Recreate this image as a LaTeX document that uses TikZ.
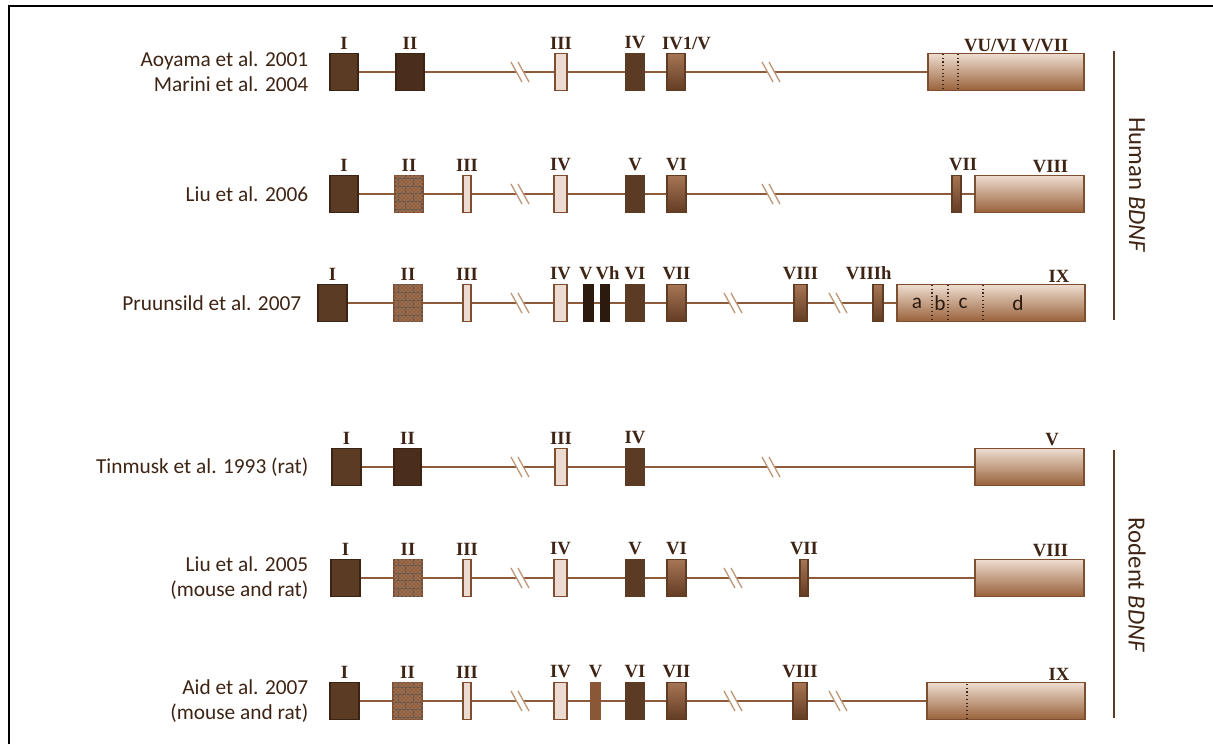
\documentclass[tikz,border=0pt]{standalone}
\usepackage{fontspec}
\setmainfont{Carlito}
\newfontfamily\exfont{Liberation Serif}
\usetikzlibrary{positioning,patterns,backgrounds}

\definecolor{brLine}{HTML}{8D5B3B}
\definecolor{brEdge}{HTML}{7E4E30}
\definecolor{brDark}{HTML}{5C3B24}
\definecolor{brDeep}{HTML}{3B2414}
\definecolor{brDeeper}{HTML}{4A2E1B}
\definecolor{brBlack}{HTML}{2C1A0E}
\definecolor{brMid}{HTML}{8A5737}
\definecolor{brPale}{HTML}{EBDBD0}
\definecolor{brTop}{HTML}{A67555}
\definecolor{brBot}{HTML}{623C22}
\definecolor{brBigTop}{HTML}{EEDDD0}
\definecolor{brBigBot}{HTML}{99613A}
\definecolor{brTex}{HTML}{8E5E3E}
\definecolor{brText}{HTML}{3E2414}
\definecolor{brCut}{HTML}{BE9878}

\tikzset{
  exonbox/.style={draw=brEdge, line width=1.2pt, minimum height=27.75pt,
    inner sep=0pt, outer sep=0pt},
  darkex/.style={exonbox, fill=brDark, draw=brDeep},
  solidex/.style={exonbox, fill=brDark, draw=brDark},
  blackex/.style={exonbox, fill=brBlack, draw=brBlack},
  midex/.style={exonbox, fill=brMid, draw=brMid},
  lightex/.style={exonbox, fill=brPale},
  shadex/.style={exonbox, top color=brTop, bottom color=brBot, draw=brBot},
  bigex/.style={exonbox, top color=brBigTop, bottom color=brBigBot},
  texex/.style={exonbox, fill=brTex, draw=brEdge,
    postaction={pattern=bricks, pattern color=brDeep!80},
    postaction={pattern=crosshatch dots, pattern color=brPale!60!brTex}},
  exlabel/.style={font=\exfont\bfseries\fontsize{14}{14}\selectfont,
    text=brText, inner sep=1pt, label distance=2pt},
  bigexlabel/.style={anchor=south east, xshift=-12.5pt},
  reflabel/.style={font=\fontsize{16}{19}\selectfont, text=brText,
    align=right, anchor=east},
  sidelabel/.style={font=\fontsize{18.5}{20}\selectfont, text=brText, rotate=-90},
  seglabel/.style={font=\fontsize{16}{16}\selectfont, text=brBlack},
  intronline/.style={draw=brLine, line width=1.8pt},
  cutmark/.style={draw=brCut, line width=1pt},
  divider/.style={draw=brDeep, line width=0.8pt, dotted},
  bracket/.style={draw=brDark, line width=1.5pt}
}

% exon: [label options] name, style, left x, right x, row y, label
\newcommand\exon[7][]{\node[#3, minimum width={(#5-#4)*0.75pt},
  label={[exlabel,#1]#7}] (#2) at ({(#4+#5)/2},#6) {};}
% break mark on an intron
\newcommand\brk[2]{%
  \draw[white, line width=4pt] (#1-5,#2-10) -- (#1+5,#2+10);
  \draw[cutmark] (#1-9,#2-10) -- (#1+2,#2+10) (#1-2,#2-10) -- (#1+9,#2+10);}

\begin{document}
\begin{tikzpicture}[x=0.75pt, y=-0.75pt]
  \useasboundingbox (0,0) rectangle (1213,744);
  \draw[line width=1.6pt] (9,744) -- (9,6) -- (1213,6);

  % human
  \node[reflabel] (aoyama) at (313,72) {Aoyama et al. 2001\\Marini et al. 2004};
  \exon{aI}{darkex}{330}{358}{72}{above:I}
  \exon{aII}{darkex, fill=brDeeper}{396}{424}{72}{above:II}
  \exon{aIII}{lightex}{555}{567}{72}{above:III}
  \exon{aIV}{solidex}{626}{644}{72}{above:IV}
  \exon[anchor=south west, xshift=-4pt]{aIVv}{shadex}{667}{685}{72}{north west:IV1/V}
  \exon[bigexlabel]{aVII}{bigex}{928}{1084}{72}{north east:VU/VI V/VII}
  \draw[divider] (943,54) -- (943,90) (958,54) -- (958,90);

  \node[reflabel] (liu06) at (313,194) {Liu et al. 2006};
  \exon{bI}{darkex}{330}{358}{194}{above:I}
  \exon{bII}{texex}{395}{423}{194}{above:II}
  \exon{bIII}{lightex}{463}{471}{194}{above:III}
  \exon{bIV}{lightex}{554}{567}{194}{above:IV}
  \exon{bV}{solidex}{626}{644}{194}{above:V}
  \exon{bVI}{shadex}{667}{686}{194}{above:VI}
  \exon[xshift=5pt]{bVII}{shadex}{952}{961}{194}{above:VII}
  \exon[bigexlabel]{bVIII}{bigex}{975}{1084}{194}{north east:VIII}

  \node[reflabel] (pruun) at (306,303) {Pruunsild et al. 2007};
  \exon{cI}{darkex}{318}{347}{303}{above:I}
  \exon{cII}{texex}{394}{422}{303}{above:II}
  \exon{cIII}{lightex}{463}{471}{303}{above:III}
  \exon{cIV}{lightex}{554}{567}{303}{above:IV}
  \exon[xshift=-2pt]{cV}{blackex}{584}{593}{303}{above:V}
  \exon[xshift=2pt]{cVh}{blackex}{601}{609}{303}{above:Vh}
  \exon{cVI}{solidex}{626}{644}{303}{above:VI}
  \exon{cVII}{shadex}{667}{686}{303}{above:VII}
  \exon{cVIII}{shadex}{794}{807}{303}{above:VIII}
  \exon[xshift=-7pt]{cVIIIh}{shadex}{873}{883}{303}{above:VIIIh}
  \exon[bigexlabel]{cIX}{bigex}{897}{1085}{303}{north east:IX}
  \draw[divider] (932,285) -- (932,321) (948,285) -- (948,321) (983,285) -- (983,321);
  \node[seglabel] (ixa) at (917,303) {a};
  \node[seglabel] (ixb) at (940,303) {b};
  \node[seglabel] (ixc) at (963,303) {c};
  \node[seglabel] (ixd) at (1018,303) {d};

  % rodent
  \node[reflabel] (tinmusk) at (313,467) {Tinmusk et al. 1993 (rat)};
  \exon{dI}{darkex}{332}{361}{467}{above:I}
  \exon{dII}{darkex, fill=brDeeper}{394}{421}{467}{above:II}
  \exon{dIII}{lightex}{555}{567}{467}{above:III}
  \exon{dIV}{solidex}{626}{644}{467}{above:IV}
  \exon[bigexlabel, xshift=-7pt]{dV}{bigex}{975}{1084}{467}{north east:V}

  \node[reflabel] (liu05) at (313,578) {Liu et al. 2005\\(mouse and rat)};
  \exon{eI}{darkex}{331}{360}{578}{above:I}
  \exon{eII}{texex}{394}{422}{578}{above:II}
  \exon{eIII}{lightex}{463}{471}{578}{above:III}
  \exon{eIV}{lightex}{554}{567}{578}{above:IV}
  \exon{eV}{solidex}{626}{644}{578}{above:V}
  \exon{eVI}{shadex}{667}{686}{578}{above:VI}
  \exon{eVII}{shadex}{800}{808}{578}{above:VII}
  \exon[bigexlabel]{eVIII}{bigex}{975}{1084}{578}{north east:VIII}

  \node[reflabel] (aid) at (313,701) {Aid et al. 2007\\(mouse and rat)};
  \exon{fI}{darkex}{330}{359}{701}{above:I}
  \exon{fII}{texex}{393}{422}{701}{above:II}
  \exon{fIII}{lightex}{463}{471}{701}{above:III}
  \exon{fIV}{lightex}{554}{567}{701}{above:IV}
  \exon{fV}{midex}{591}{600}{701}{above:V}
  \exon{fVI}{solidex}{626}{644}{701}{above:VI}
  \exon{fVII}{shadex}{667}{686}{701}{above:VII}
  \exon{fVIII}{shadex}{793}{807}{701}{above:VIII}
  \exon[bigexlabel]{fIX}{bigex}{927}{1085}{701}{north east:IX}
  \draw[divider] (967,684) -- (967,719);

  % introns behind the exons
  \begin{scope}[on background layer]
    \draw[intronline] (aI) -- (aVII) (bI) -- (bVIII) (cI) -- (cIX)
      (dI) -- (dV) (eI) -- (eVIII) (fI) -- (fIX);
  \end{scope}
  \brk{520}{72} \brk{771}{72}
  \brk{520}{194} \brk{771}{194}
  \brk{520}{303} \brk{733}{303} \brk{838}{303}
  \brk{520}{467} \brk{771}{467}
  \brk{520}{578} \brk{733}{578}
  \brk{520}{701} \brk{733}{701} \brk{838}{701}

  % species brackets
  \draw[bracket] (1114,51) -- (1114,320);
  \node[sidelabel] (human) at (1137,185) {Human \textit{BDNF}};
  \draw[bracket] (1114,450) -- (1114,718);
  \node[sidelabel] (rodent) at (1137,585) {Rodent \textit{BDNF}};
\end{tikzpicture}
\end{document}
